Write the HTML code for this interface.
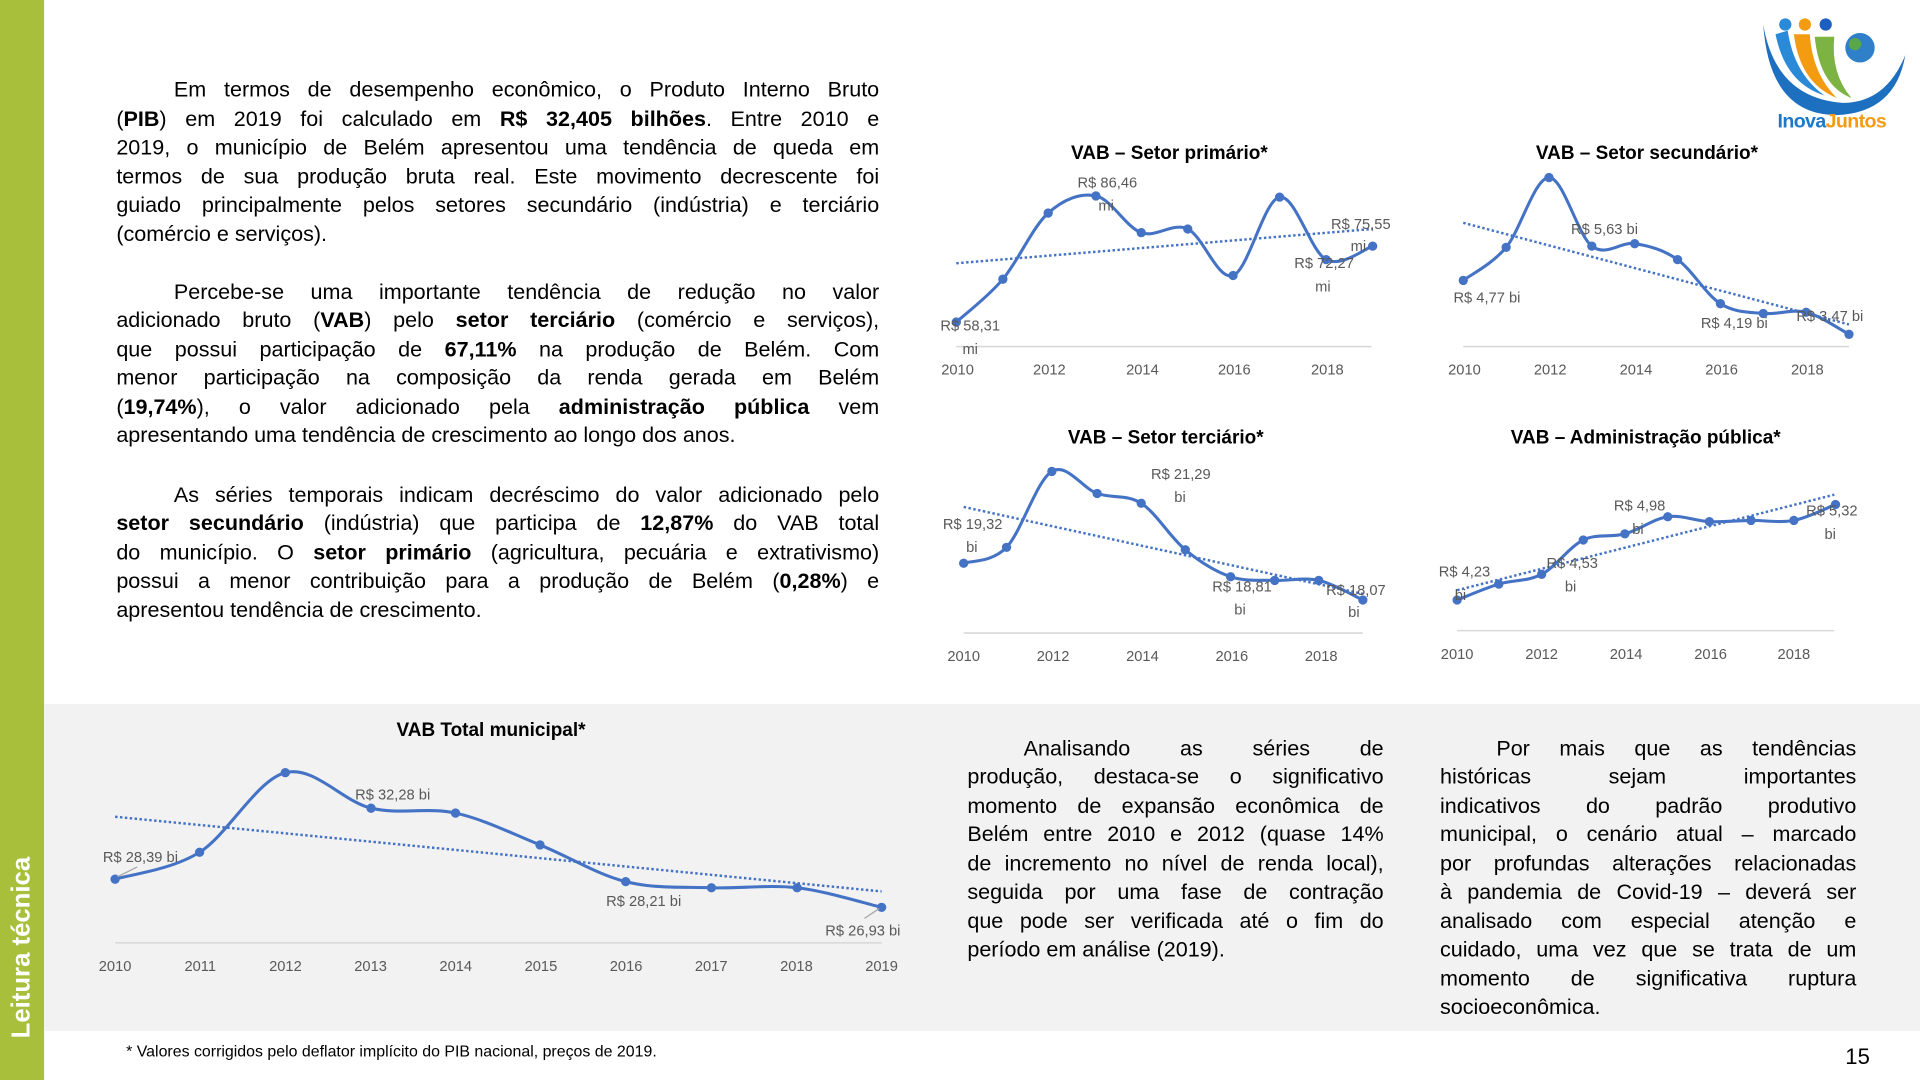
<!DOCTYPE html>
<html><head><meta charset="utf-8">
<style>
html,body{margin:0;padding:0;background:#fff;overflow:hidden}
#pg{position:absolute;left:0;top:0;width:1568px;height:882px;transform:scale(1.224489);transform-origin:0 0;font-family:"Liberation Sans",sans-serif;color:#000}
.ln{position:absolute;font-size:17.6px;line-height:23.5px;white-space:nowrap;text-align:justify;text-align-last:justify}
.nl{text-align-last:left}
svg text{font-family:"Liberation Sans",sans-serif}
</style></head><body>
<div id="pg">
<div style="position:absolute;left:0;top:0;width:36px;height:882px;background:#a8bf3c"></div>
<div style="position:absolute;left:36px;top:575px;width:1532px;height:267px;background:#f2f2f2"></div>
<div style="position:absolute;left:18px;top:848px;transform:rotate(-90deg);transform-origin:0 0;color:#fff;font-weight:bold;font-size:21px;white-space:nowrap;margin-left:-12px">Leitura técnica</div>
<div id="txt"></div>
<svg id="ch" width="1568" height="882" style="position:absolute;left:0;top:0"></svg>
<div style="position:absolute;left:103px;top:851px;font-size:13px">* Valores corrigidos pelo deflator implícito do PIB nacional, preços de 2019.</div>
<div style="position:absolute;left:1507px;top:853px;font-size:18px">15</div>
</div>
<script>
var T=[
[142,62,576,"Em termos de desempenho econômico, o Produto Interno Bruto",0],
[95,86,623,"(<b>PIB</b>) em 2019 foi calculado em <b>R$ 32,405 bilhões</b>. Entre 2010 e",0],
[95,109,623,"2019, o município de Belém apresentou uma tendência de queda em",0],
[95,133,623,"termos de sua produção bruta real. Este movimento decrescente foi",0],
[95,156,623,"guiado principalmente pelos setores secundário (indústria) e terciário",0],
[95,180,623,"(comércio e serviços).",1],
[142,227,576,"Percebe-se uma importante tendência de redução no valor",0],
[95,250,623,"adicionado bruto (<b>VAB</b>) pelo <b>setor terciário</b> (comércio e serviços),",0],
[95,274,623,"que possui participação de <b>67,11%</b> na produção de Belém. Com",0],
[95,297,623,"menor participação na composição da renda gerada em Belém",0],
[95,321,623,"(<b>19,74%</b>), o valor adicionado pela <b>administração pública</b> vem",0],
[95,344,623,"apresentando uma tendência de crescimento ao longo dos anos.",1],
[142,393,576,"As séries temporais indicam decréscimo do valor adicionado pelo",0],
[95,416,623,"<b>setor secundário</b> (indústria) que participa de <b>12,87%</b> do VAB total",0],
[95,440,623,"do município. O <b>setor primário</b> (agricultura, pecuária e extrativismo)",0],
[95,463,623,"possui a menor contribuição para a produção de Belém (<b>0,28%</b>) e",0],
[95,487,623,"apresentou tendência de crescimento.",1],
[836,600,294,"Analisando as séries de",0],
[790,623,340,"produção, destaca-se o significativo",0],
[790,647,340,"momento de expansão econômica de",0],
[790,670,340,"Belém entre 2010 e 2012 (quase 14%",0],
[790,694,340,"de incremento no nível de renda local),",0],
[790,717,340,"seguida por uma fase de contração",0],
[790,741,340,"que pode ser verificada até o fim do",0],
[790,764,340,"período em análise (2019).",1],
[1222,600,294,"Por mais que as tendências",0],
[1176,623,340,"históricas sejam importantes",0],
[1176,647,340,"indicativos do padrão produtivo",0],
[1176,670,340,"municipal, o cenário atual – marcado",0],
[1176,694,340,"por profundas alterações relacionadas",0],
[1176,717,340,"à pandemia de Covid-19 – deverá ser",0],
[1176,741,340,"analisado com especial atenção e",0],
[1176,764,340,"cuidado, uma vez que se trata de um",0],
[1176,788,340,"momento de significativa ruptura",0],
[1176,811,340,"socioeconômica.",1]];
var h="";T.forEach(function(t){h+='<div class="ln'+(t[4]?' nl':'')+'" style="left:'+t[0]+'px;top:'+t[1]+'px;width:'+t[2]+'px">'+t[3]+'</div>';});
document.getElementById("txt").innerHTML=h;
function sm(p){var d="M"+p[0][0]+","+p[0][1];for(var i=0;i<p.length-1;i++){var a=p[i>0?i-1:0],b=p[i],c=p[i+1],e=p[i+2<p.length?i+2:i+1];
d+=" C"+(b[0]+(c[0]-a[0])/6)+","+(b[1]+(c[1]-a[1])/6)+" "+(c[0]-(e[0]-b[0])/6)+","+(c[1]-(e[1]-b[1])/6)+" "+c[0]+","+c[1];}return d;}
var C="#4472c4",s="";
function chart(o){
 s+='<text x="'+o.tx+'" y="'+o.ty+'" text-anchor="middle" font-weight="bold" font-size="15.5" fill="#000">'+o.title+'</text>';
 s+='<line x1="'+o.ax[0]+'" x2="'+o.ax[1]+'" y1="'+o.ay+'" y2="'+o.ay+'" stroke="#d9d9d9" stroke-width="1.3"/>';
 o.yr.forEach(function(y){s+='<text x="'+y[0]+'" y="'+o.yy+'" text-anchor="middle" font-size="12" fill="#595959">'+y[1]+'</text>';});
 s+='<line x1="'+o.tr[0]+'" y1="'+o.tr[1]+'" x2="'+o.tr[2]+'" y2="'+o.tr[3]+'" stroke="'+C+'" stroke-width="2" stroke-dasharray="2 2"/>';
 s+='<path d="'+sm(o.p)+'" fill="none" stroke="'+C+'" stroke-width="2.5"/>';
 o.p.forEach(function(q){s+='<circle cx="'+q[0]+'" cy="'+q[1]+'" r="3.8" fill="'+C+'"/>';});
 o.lb.forEach(function(l){s+='<text x="'+l[0]+'" y="'+l[1]+'" font-size="12" fill="#595959">'+l[2]+'</text>';});
}
chart({title:"VAB – Setor primário*",tx:955,ty:130,ax:[781,1120],ay:283,yy:306,
 yr:[[782,2010],[857,2012],[933,2014],[1008,2016],[1084,2018]],tr:[781,215,1121,187],
 p:[[781,263],[819,228],[856,174],[895,160],[932,190],[970,187],[1007,225],[1045,161],[1083,212],[1121,201]],
 lb:[[768,270,"R$ 58,31"],[786,289,"mi"],[880,153,"R$ 86,46"],[897,172,"mi"],[1087,187,"R$ 75,55"],[1103,205,"mi"],[1057,219,"R$ 72,27"],[1074,238,"mi"]]});
chart({title:"VAB – Setor secundário*",tx:1345,ty:130,ax:[1195,1510],ay:283,yy:306,
 yr:[[1196,2010],[1266,2012],[1336,2014],[1406,2016],[1476,2018]],tr:[1195,182,1510,265],
 p:[[1195,229],[1230,202],[1265,145],[1300,201],[1335,199],[1370,212],[1405,248],[1440,256],[1475,255],[1510,273]],
 lb:[[1283,191,"R$ 5,63 bi"],[1187,247,"R$ 4,77 bi"],[1389,268,"R$ 4,19 bi"],[1467,262,"R$ 3,47 bi"]]});
chart({title:"VAB – Setor terciário*",tx:952,ty:362,ax:[787,1113],ay:517,yy:540,
 yr:[[787,2010],[860,2012],[933,2014],[1006,2016],[1079,2018]],tr:[787,414,1113,485],
 p:[[787,460],[822,447],[859,385],[896,403],[932,411],[968,449],[1005,471],[1041,474],[1077,474],[1113,490]],
 lb:[[770,432,"R$ 19,32"],[789,451,"bi"],[940,391,"R$ 21,29"],[959,410,"bi"],[990,483,"R$ 18,81"],[1008,502,"bi"],[1083,486,"R$ 18,07"],[1101,504,"bi"]]});
chart({title:"VAB – Administração pública*",tx:1344,ty:362,ax:[1190,1498],ay:515,yy:538,
 yr:[[1190,2010],[1259,2012],[1328,2014],[1397,2016],[1465,2018]],tr:[1190,482,1498,404],
 p:[[1190,490],[1224,477],[1259,469],[1293,441],[1327,436],[1362,422],[1396,426],[1430,425],[1465,425],[1499,412]],
 lb:[[1175,471,"R$ 4,23"],[1188,490,"bi"],[1263,464,"R$ 4,53"],[1278,483,"bi"],[1318,417,"R$ 4,98"],[1333,436,"bi"],[1475,421,"R$ 5,32"],[1490,440,"bi"]]});
var ty=[];for(var i=0;i<10;i++)ty.push([94+i*69.55,2010+i]);
chart({title:"VAB Total municipal*",tx:401,ty:601,ax:[94,720],ay:770,yy:793,yr:ty,tr:[94,667,720,728],
 p:[[94,718],[163,696],[233,631],[303,660],[372,664],[441,690],[511,720],[581,725],[651,725],[720,741]],
 lb:[[84,704,"R$ 28,39 bi"],[290,653,"R$ 32,28 bi"],[495,740,"R$ 28,21 bi"],[674,764,"R$ 26,93 bi"]]});
s+='<line x1="96" y1="716" x2="112" y2="708" stroke="#a6a6a6"/><line x1="718" y1="742" x2="706" y2="750" stroke="#a6a6a6"/>';
/* logo */
s+='<path d="M1440,20 Q1450,80 1505,84 Q1540,84 1556,45 Q1548,92 1500,94 Q1445,94 1440,20Z" fill="#1d6fc0"/>';
s+='<path d="M1450,28 Q1458,68 1490,78 Q1465,60 1460,25Z" fill="#2a8ad8"/>';
s+='<path d="M1465,28 Q1470,68 1500,80 Q1480,60 1478,28Z" fill="#f39c12"/>';
s+='<path d="M1482,30 Q1486,70 1512,80 Q1495,60 1498,30Z" fill="#7cb342"/>';
s+='<circle cx="1458" cy="20" r="5" fill="#2a8ad8"/><circle cx="1474" cy="20" r="5" fill="#f39c12"/><circle cx="1491" cy="20" r="5" fill="#1d5fbf"/>';
s+='<circle cx="1519" cy="39" r="12" fill="#2f80c8"/><circle cx="1515" cy="36" r="5" fill="#5aa845"/>';
s+='<text x="1496" y="104" text-anchor="middle" font-size="16" font-weight="bold" fill="#1d79c8" letter-spacing="-0.5">Inova<tspan fill="#f39c12">Juntos</tspan></text>';
document.getElementById("ch").innerHTML=s;
</script>
</body></html>
